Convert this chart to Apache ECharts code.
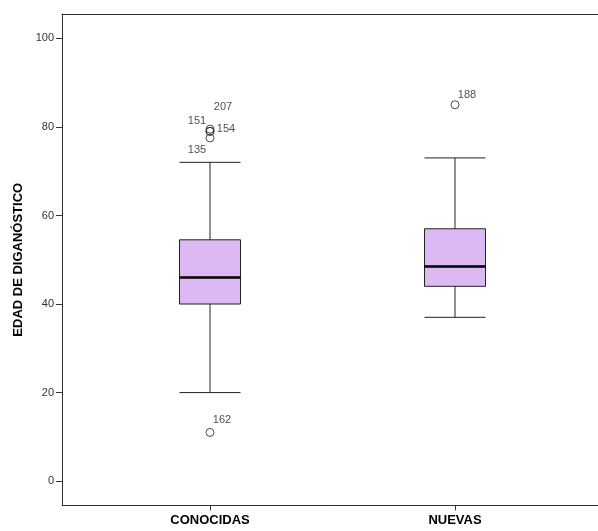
<!DOCTYPE html>
<html lang="es">
<head>
    <meta charset="UTF-8">
    <title>Edad de diagnóstico</title>
    <style>
        html, body { margin: 0; padding: 0; background: #fff; }
        #chart { width: 598px; height: 531px; }
    </style>
</head>
<body>
    <div id="chart"></div>
    <script src="https://cdn.jsdelivr.net/npm/echarts@6/dist/echarts.min.js"></script>
    <script>
        // datos
        var categories = ['CONOCIDAS', 'NUEVAS'];
        // [min, Q1, mediana, Q3, max]
        var boxValues = [
            [20, 40, 46, 54.5, 72],
            [37, 44, 48.5, 57, 73]
        ];
        // atipicos: [categoria, valor, caso]
        var outliers = [
            [0, 79.5, '207'],
            [0, 79, '151'],
            [0, 79, '154'],
            [0, 77.5, '135'],
            [0, 11, '162'],
            [1, 85, '188']
        ];
        var yTicks = [0, 20, 40, 60, 80, 100];

        // desplazamiento de las etiquetas de caso
        var labelOffsets = {
            '207': [13, -22],
            '151': [-13, -10],
            '154': [16, -2],
            '135': [-13, 12],
            '162': [12, -12],
            '188': [12, -10]
        };

        var medians = boxValues.map(function (b, i) { return [i, b[2]]; });

        var outlierData = outliers.map(function (o) {
            return {
                value: [o[0], o[1]],
                name: o[2],
                label: { offset: labelOffsets[o[2]] }
            };
        });

        var yMin = -5.5, yMax = 105.5;
        var font = '"Liberation Sans", Arial, sans-serif';

        var chart = echarts.init(document.getElementById('chart'));
        var option = {
            animation: false,
            backgroundColor: '#fff',
            grid: [
                { left: 62, right: 0, top: 14, bottom: 25.5 },
                { left: 87.5, right: 20.5, top: 14, bottom: 25.5 }
            ],
            xAxis: [
                {
                    gridIndex: 0, type: 'value', min: 0, max: 1,
                    axisLine: { show: true, onZero: false, lineStyle: { color: '#333', width: 1 } },
                    axisTick: { show: false }, axisLabel: { show: false }, splitLine: { show: false }
                },
                {
                    gridIndex: 0, type: 'value', min: 0, max: 1, position: 'top',
                    axisLine: { show: true, onZero: false, lineStyle: { color: '#333', width: 1 } },
                    axisTick: { show: false }, axisLabel: { show: false }, splitLine: { show: false }
                },
                {
                    gridIndex: 1, type: 'category', data: categories, position: 'bottom',
                    axisLine: { show: false, onZero: false },
                    axisTick: { show: true, alignWithLabel: true, length: 5, lineStyle: { color: '#333' } },
                    axisLabel: { margin: 8, color: '#000', fontWeight: 'bold', fontSize: 13, fontFamily: font },
                    splitLine: { show: false }
                }
            ],
            yAxis: [
                {
                    gridIndex: 0, type: 'value', min: yMin, max: yMax,
                    name: 'EDAD DE DIGANÓSTICO', nameLocation: 'middle', nameGap: 34,
                    nameTextStyle: { color: '#000', fontWeight: 'bold', fontSize: 13, fontFamily: font },
                    axisLine: { show: true, onZero: false, lineStyle: { color: '#333', width: 1 } },
                    axisTick: { show: true, length: 6, customValues: yTicks, lineStyle: { color: '#333' } },
                    axisLabel: { margin: 8, color: '#333', fontSize: 11, fontFamily: font, customValues: yTicks },
                    splitLine: { show: false }
                },
                {
                    gridIndex: 1, type: 'value', min: yMin, max: yMax, show: false
                }
            ],
            series: [
                {
                    type: 'boxplot',
                    xAxisIndex: 2, yAxisIndex: 1,
                    data: boxValues,
                    boxWidth: [61, 61],
                    itemStyle: { color: '#dcb9f2', borderColor: '#222', borderWidth: 1 }
                },
                {
                    // linea de la mediana mas gruesa
                    type: 'custom',
                    xAxisIndex: 2, yAxisIndex: 1,
                    data: medians,
                    z: 5,
                    renderItem: function (params, api) {
                        var p = api.coord([api.value(0), api.value(1)]);
                        return {
                            type: 'line',
                            shape: { x1: p[0] - 30.5, y1: p[1], x2: p[0] + 30.5, y2: p[1] },
                            style: { stroke: '#000', lineWidth: 2.5 }
                        };
                    }
                },
                {
                    type: 'scatter',
                    xAxisIndex: 2, yAxisIndex: 1,
                    data: outlierData,
                    symbol: 'circle',
                    symbolSize: 8,
                    itemStyle: { color: 'rgba(255,255,255,0)', borderColor: '#222', borderWidth: 1 },
                    label: {
                        show: true,
                        position: 'inside',
                        formatter: '{b}',
                        color: '#222',
                        fontSize: 11,
                        fontFamily: font
                    },
                    z: 6
                }
            ]
        };
        chart.setOption(option);
    </script>
</body>
</html>
